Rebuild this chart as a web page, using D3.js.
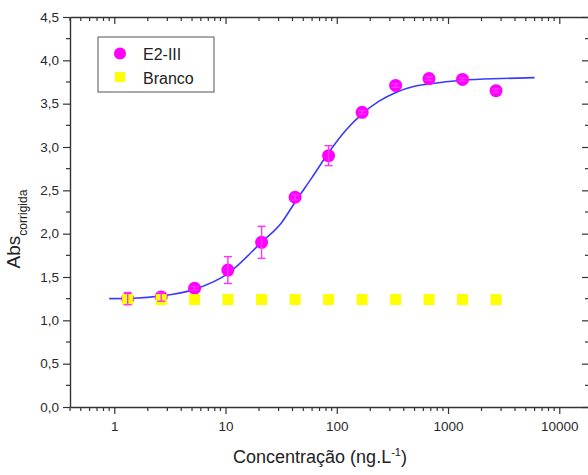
<!DOCTYPE html>
<html>
<head>
<meta charset="utf-8">
<script src="https://cdn.jsdelivr.net/npm/d3@7"></script>
<style>
  body { margin: 0; background: #fff; }
  svg { display: block; font-family: "Liberation Sans", Arial, sans-serif; }
</style>
</head>
<body>
<div id="chart"></div>
<script>
// concentrações (ng/L)
const conc = [1.32, 2.64, 5.27, 10.5, 21.1, 42.2, 84.4, 169, 338, 675, 1350, 2700];
// E2-III médias e desvios
const e2Values = [1.25, 1.27, 1.37, 1.58, 1.90, 2.42, 2.90, 3.40, 3.71, 3.79, 3.78, 3.65];
const e2Errors = [0.07, 0.05, 0.02, 0.155, 0.185, 0.03, 0.115, 0.02, 0.02, 0.02, 0.02, 0.02];
// Branco
const brancoValues = [1.24, 1.24, 1.24, 1.24, 1.24, 1.24, 1.24, 1.24, 1.24, 1.24, 1.24, 1.24];
// curva ajustada
const fitX = [0.9, 1.5, 2.6, 5.3, 10.5, 21, 32, 43, 60, 84, 120, 168, 240, 340, 500, 700, 1350, 3000, 6000];
const fitY = [1.25, 1.255, 1.28, 1.36, 1.54, 1.90, 2.13, 2.38, 2.65, 2.93, 3.19, 3.38, 3.53, 3.63, 3.70, 3.73, 3.77, 3.79, 3.80];
// eixos
const xTickValues = [1, 10, 100, 1000, 10000];
const yTickValues = [0, 0.5, 1, 1.5, 2, 2.5, 3, 3.5, 4, 4.5];

const width = 588, height = 475;
const margin = { top: 17, right: -1, bottom: 68, left: 70 };
const innerW = width - margin.left - margin.right;
const innerH = height - margin.top - margin.bottom;

const svg = d3.select("#chart").append("svg")
  .attr("width", width)
  .attr("height", height);

const g = svg.append("g")
  .attr("transform", `translate(${margin.left},${margin.top})`);

const x = d3.scaleLog().domain([0.4, 18500]).range([0, innerW]);
const y = d3.scaleLinear().domain([0, 4.5]).range([innerH, 0]);

const axisColor = "#333";
const fmt = d => d3.format(".1f")(d).replace(".", ",");

// ticks menores do eixo x
const minorX = [];
for (let dec = -1; dec <= 4; dec++) {
  for (let k = 2; k <= 9; k++) {
    const v = k * Math.pow(10, dec);
    if (v >= 0.4 && v <= 18500) minorX.push(v);
  }
}
const minorY = d3.range(0.25, 4.5, 0.5);

// eixo inferior
const xAxis = g.append("g")
  .attr("transform", `translate(0,${innerH})`)
  .call(d3.axisBottom(x).tickValues(xTickValues).tickFormat(d3.format("d")).tickSize(7).tickSizeOuter(0));
xAxis.append("g").selectAll("line").data(minorX).enter().append("line")
  .attr("x1", d => x(d)).attr("x2", d => x(d))
  .attr("y1", 0).attr("y2", 4);

// eixo superior (ticks para dentro)
const xTop = g.append("g")
  .call(d3.axisTop(x).tickValues(xTickValues).tickFormat("").tickSize(-7).tickSizeOuter(0));
xTop.append("g").selectAll("line").data(minorX).enter().append("line")
  .attr("x1", d => x(d)).attr("x2", d => x(d))
  .attr("y1", 0).attr("y2", 4);

// eixo esquerdo
const yAxis = g.append("g")
  .call(d3.axisLeft(y).tickValues(yTickValues).tickFormat(fmt).tickSize(7).tickSizeOuter(0));
yAxis.append("g").selectAll("line").data(minorY).enter().append("line")
  .attr("y1", d => y(d)).attr("y2", d => y(d))
  .attr("x1", 0).attr("x2", -4);

// eixo direito
const yRight = g.append("g")
  .attr("transform", `translate(${innerW},0)`)
  .call(d3.axisRight(y).tickValues(yTickValues).tickFormat("").tickSize(-7).tickSizeOuter(0));
yRight.append("g").selectAll("line").data(minorY).enter().append("line")
  .attr("y1", d => y(d)).attr("y2", d => y(d))
  .attr("x1", 0).attr("x2", -4);

[xAxis, xTop, yAxis, yRight].forEach(a => {
  a.select(".domain").attr("stroke", axisColor).attr("stroke-width", 1.4);
  a.selectAll("line").attr("stroke", axisColor).attr("stroke-width", 1.2);
  a.selectAll("text")
    .attr("fill", "#2a2a2a")
    .style("font-size", "13.5px")
    .style("font-family", "'Liberation Sans', Arial, sans-serif");
});
xAxis.selectAll(".tick text").attr("dy", "1.05em");
yAxis.selectAll(".tick text").attr("x", -11);

// curva ajustada
const fitData = fitX.map((v, i) => ({ x: v, y: fitY[i] }));
g.append("path")
  .datum(fitData)
  .attr("fill", "none")
  .attr("stroke", "#3a3aff")
  .attr("stroke-width", 1.6)
  .attr("d", d3.line().x(d => x(d.x)).y(d => y(d.y)).curve(d3.curveMonotoneX));

// E2-III (círculos)
g.selectAll("circle.e2").data(conc).enter().append("circle")
  .attr("class", "e2")
  .attr("cx", d => x(d))
  .attr("cy", (d, i) => y(e2Values[i]))
  .attr("r", 6.5)
  .attr("fill", "#ff00ff");

// Branco (quadrados)
const sq = 11;
g.selectAll("rect.branco").data(conc).enter().append("rect")
  .attr("class", "branco")
  .attr("x", d => x(d) - sq / 2)
  .attr("y", (d, i) => y(brancoValues[i]) - sq / 2)
  .attr("width", sq).attr("height", sq)
  .attr("fill", "#ffff00");

// barras de erro E2-III
const eb = g.append("g").attr("stroke", "#ff33ff").attr("stroke-width", 1.4);
conc.forEach((c, i) => {
  const cx = x(c), y1 = y(e2Values[i] + e2Errors[i]), y2 = y(e2Values[i] - e2Errors[i]);
  eb.append("line").attr("x1", cx).attr("x2", cx).attr("y1", y1).attr("y2", y2);
  eb.append("line").attr("x1", cx - 4).attr("x2", cx + 4).attr("y1", y1).attr("y2", y1);
  eb.append("line").attr("x1", cx - 4).attr("x2", cx + 4).attr("y1", y2).attr("y2", y2);
});

// legenda
const legend = svg.append("g").attr("transform", "translate(98,37)");
legend.append("rect")
  .attr("width", 116).attr("height", 55)
  .attr("fill", "#fff").attr("stroke", "#555").attr("stroke-width", 1);
legend.append("circle").attr("cx", 22).attr("cy", 16.5).attr("r", 6).attr("fill", "#ff00ff");
legend.append("rect").attr("x", 17).attr("y", 35).attr("width", 10).attr("height", 10).attr("fill", "#ffff00");
legend.append("text").attr("x", 45).attr("y", 22.5).text("E2-III")
  .attr("fill", "#222").style("font-size", "16px");
legend.append("text").attr("x", 45).attr("y", 46.5).text("Branco")
  .attr("fill", "#222").style("font-size", "16px");

// títulos dos eixos
const xt = svg.append("text")
  .attr("x", 320).attr("y", 463)
  .attr("text-anchor", "middle")
  .attr("fill", "#222")
  .style("font-size", "18px");
xt.append("tspan").text("Concentração (ng.L");
xt.append("tspan").attr("dy", -7).style("font-size", "11px").text("-1");
xt.append("tspan").attr("dy", 7).text(")");

const yt = svg.append("text")
  .attr("transform", "translate(20,229) rotate(-90)")
  .attr("text-anchor", "middle")
  .attr("fill", "#222")
  .style("font-size", "19px");
yt.append("tspan").text("Abs");
yt.append("tspan").attr("dy", 7).style("font-size", "12px").text("corrigida");
</script>
</body>
</html>
